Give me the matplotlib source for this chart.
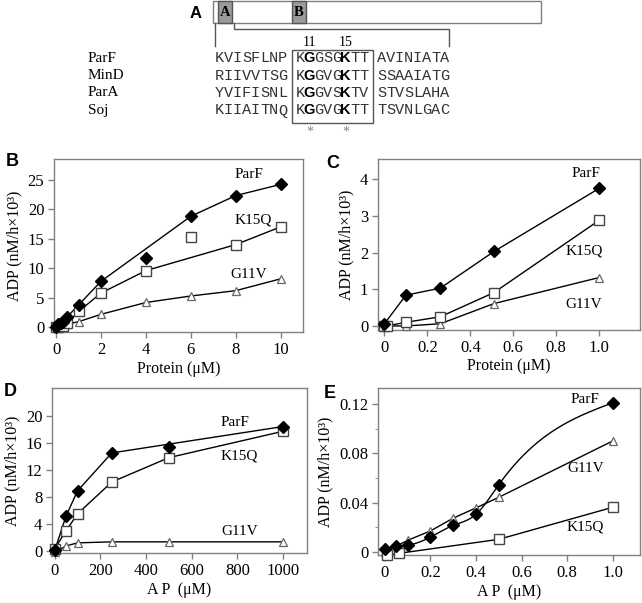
import numpy as np
import matplotlib
matplotlib.use("Agg")
import matplotlib.pyplot as plt
import matplotlib.patches as patches

plt.rcParams['font.family'] = ['Liberation Serif', 'DejaVu Serif']

# ---- panel A: sequence alignment ----
seq_names = ["ParF", "MinD", "ParA", "Soj"]
seq_left = ["KVISFLNP", "RIIVVTSG", "YVIFISNL", "KIIAITNQ"]
seq_mid = ["KGGSGKTT", "KGGVGKTT", "KGGVSKTV", "KGGVGKTT"]
seq_right = ["AVINIATA", "SSAAIATG", "STVSLAHA", "TSVNLGAC"]
bold_pos = [1, 5]           # G11 and K15 inside the boxed motif
motif_labels = ["11", "15"]

# ---- panel B: ATPase vs protein (0-10 uM) ----
b_x_parf = [0, 0.1, 0.2, 0.3, 0.5, 1, 2, 4, 6, 8, 10]
b_y_parf = [0, 0.5, 0.7, 0.9, 1.8, 3.8, 7.8, 11.8, 18.8, 22.3, 24.2]
b_x_k15q = [0, 0.1, 0.3, 0.5, 1, 2, 4, 6, 8, 10]
b_y_k15q = [0, 0.1, 0.2, 0.7, 2.7, 5.8, 9.6, 15.3, 14.0, 17.0]
b_x_g11v = [0, 0.1, 0.3, 0.5, 1, 2, 4, 6, 8, 10]
b_y_g11v = [0, 0.05, 0.1, 0.55, 0.95, 2.2, 4.2, 5.3, 6.2, 8.2]
# fitted lines skip the outlying points
b_fit_parf = [0, 1, 2, 3, 4, 5, 6, 8, 9, 10]
b_fit_k15q = [0, 1, 2, 3, 4, 5, 6, 8, 9]

# ---- panel C: ATPase vs protein (0-1 uM) ----
c_x = [0, 0.1, 0.26, 0.51, 1.0]
c_y_parf = [0.06, 0.84, 1.03, 2.03, 3.75]
c_x_k15q = [0, 0.01, 0.1, 0.26, 0.51, 1.0]
c_y_k15q = [0, 0, 0.1, 0.25, 0.91, 2.88]
c_x_g11v = [0, 0.01, 0.1, 0.26, 0.51, 1.0]
c_y_g11v = [0, 0, 0, 0.06, 0.61, 1.32]

# ---- panel D: ATPase vs ATP (0-1000 uM) ----
d_x = [0, 50, 100, 250, 500, 1000]
d_y_parf = [0.1, 5.2, 8.9, 14.5, 15.4, 18.4]
d_y_k15q = [0.35, 3.0, 5.5, 10.2, 13.8, 17.7]
d_y_g11v = [-0.2, 0.75, 1.2, 1.35, 1.35, 1.35]
d_fit_parf = [0, 1, 2, 3, 5]

# ---- panel E: ATPase vs ATP (0-1 uM) ----
e_x_parf = [0, 0.05, 0.1, 0.2, 0.3, 0.4, 0.5, 1.0]
e_y_parf = [0.002, 0.0046, 0.0055, 0.012, 0.0215, 0.0305, 0.0545, 0.121]
e_x_g11v = [0, 0.1, 0.2, 0.3, 0.4, 0.5, 1.0]
e_y_g11v = [0, 0.0094, 0.017, 0.0274, 0.0357, 0.0443, 0.090]
e_x_k15q = [0.01, 0.06, 0.5, 1.0]
e_y_k15q = [-0.0025, -0.0012, 0.0102, 0.0362]

W, H = 642, 603
fig = plt.figure(figsize=(W / 100, H / 100), dpi=100)

ax0 = fig.add_axes([0, 0, 1, 1])
ax0.set_xlim(0, W)
ax0.set_ylim(H, 0)
ax0.axis("off")

GRAY = "#808080"
DARK = "#555555"

# domain bar with Walker A / B boxes
ax0.add_patch(patches.Rectangle((213, 1), 328, 22, fill=False, edgecolor=GRAY, lw=1))
for x0, lab in [(218, "A"), (292, "B")]:
    ax0.add_patch(patches.Rectangle((x0, 1), 14, 22, facecolor="#9a9a9a", edgecolor=DARK, lw=1))
    ax0.text(x0 + 7, 13, lab, ha="center", va="center", fontsize=10.5, fontweight="bold")
ax0.text(196, 13, "A", ha="center", va="center", fontsize=12, fontweight="bold",
         family=["Liberation Sans", "DejaVu Sans"])
ax0.plot([215, 215], [23, 46], color=DARK, lw=1)
ax0.plot([234, 234, 449, 449], [23, 29, 29, 46], color=DARK, lw=1)

pitch = 9
row_y = [58, 75.5, 93, 110.5]
for i, name in enumerate(seq_names):
    y = row_y[i]
    ax0.text(88, y, name, ha="left", va="center", fontsize=11)
    for segx, seg in [(215, seq_left[i]), (296, seq_mid[i]), (377, seq_right[i])]:
        for j, ch in enumerate(seg):
            if segx == 296 and j in bold_pos:
                ax0.text(segx + (j + 0.5) * pitch, y, ch, ha="center", va="center",
                         fontsize=10.5, fontweight="bold", family=["Liberation Sans", "DejaVu Sans"])
            else:
                ax0.text(segx + (j + 0.5) * pitch, y, ch, ha="center", va="center",
                         fontsize=11, family=["Liberation Mono", "DejaVu Sans Mono"], color="#333333")
ax0.add_patch(patches.Rectangle((292, 50), 81, 73, fill=False, edgecolor=DARK, lw=1))
for j, lab in zip(bold_pos, motif_labels):
    xc = 296 + (j + 0.5) * pitch
    ax0.text(xc, 43, lab, ha="center", va="center", fontsize=10)
    ax0.text(xc, 132, "*", ha="center", va="center", fontsize=10, color=GRAY)


def make_ax(l, r, t, b):
    ax = fig.add_axes([l / W, 1 - b / H, (r - l) / W, (b - t) / H])
    for s in ax.spines.values():
        s.set_color(GRAY)
        s.set_linewidth(1)
    ax.tick_params(direction="out", length=4, width=1, color=GRAY, labelsize=12, pad=3)
    ax.set_ylabel("ADP (nM/h×10³)", fontsize=11.5, labelpad=4)
    return ax


def series(ax, x, y, kind, line_idx=None, line=True):
    x = np.asarray(x)
    y = np.asarray(y)
    if line:
        idx = np.arange(len(x)) if line_idx is None else np.asarray(line_idx)
        ax.plot(x[idx], y[idx], color="black", lw=1, zorder=2)
    if kind == "parf":
        ax.plot(x, y, ls="none", marker="D", ms=6, mfc="black", mec="black", zorder=4, clip_on=False)
    elif kind == "k15q":
        ax.plot(x, y, ls="none", marker="s", ms=7, mfc="white", mec="#444444", mew=1, zorder=3, clip_on=False)
    else:
        ax.plot(x, y, ls="none", marker="^", ms=6, mfc="white", mec="#666666", mew=0.9, zorder=3, clip_on=False)


def spline(x, y, n=200):
    # natural cubic spline through the points, for the smooth curve in E
    x = np.asarray(x, float)
    y = np.asarray(y, float)
    m = len(x)
    h = np.diff(x)
    A = np.zeros((m, m))
    rhs = np.zeros(m)
    A[0, 0] = A[-1, -1] = 1
    for i in range(1, m - 1):
        A[i, i - 1] = h[i - 1]
        A[i, i] = 2 * (h[i - 1] + h[i])
        A[i, i + 1] = h[i]
        rhs[i] = 3 * ((y[i + 1] - y[i]) / h[i] - (y[i] - y[i - 1]) / h[i - 1])
    c = np.linalg.solve(A, rhs)
    xs = np.linspace(x[0], x[-1], n)
    k = np.clip(np.searchsorted(x, xs) - 1, 0, m - 2)
    dx = xs - x[k]
    b = (y[k + 1] - y[k]) / h[k] - h[k] * (2 * c[k] + c[k + 1]) / 3
    d = (c[k + 1] - c[k]) / (3 * h[k])
    return xs, y[k] + b * dx + c[k] * dx ** 2 + d * dx ** 3


# panel B
axB = make_ax(54, 303, 159, 332)
series(axB, b_x_g11v, b_y_g11v, "g11v")
series(axB, b_x_k15q, b_y_k15q, "k15q", b_fit_k15q)
series(axB, b_x_parf, b_y_parf, "parf", b_fit_parf)
axB.set_xlim(-0.1, 11)
axB.set_ylim(-0.8, 28.5)
axB.set_xticks([0, 2, 4, 6, 8, 10])
axB.set_yticks([0, 5, 10, 15, 20, 25])
axB.set_xlabel("Protein (μM)", fontsize=11.5, labelpad=2)
axB.text(8.6, 25.3, "ParF", fontsize=11, ha="center")
axB.text(8.8, 17.6, "K15Q", fontsize=11, ha="center")
axB.text(8.6, 8.4, "G11V", fontsize=11, ha="center")

# panel C
axC = make_ax(378, 640, 159, 330)
series(axC, c_x_g11v, c_y_g11v, "g11v")
series(axC, c_x_k15q, c_y_k15q, "k15q")
series(axC, c_x, c_y_parf, "parf")
axC.set_xlim(-0.03, 1.19)
axC.set_ylim(-0.11, 4.55)
axC.set_xticks([0, 0.2, 0.4, 0.6, 0.8, 1.0])
axC.set_xticklabels(["0", "0.2", "0.4", "0.6", "0.8", "1.0"])
axC.set_yticks([0, 1, 2, 3, 4])
axC.set_xlabel("Protein (μM)", fontsize=11.5, labelpad=2)
axC.text(0.94, 4.05, "ParF", fontsize=11, ha="center")
axC.text(0.93, 1.95, "K15Q", fontsize=11, ha="center")
axC.text(0.93, 0.5, "G11V", fontsize=11, ha="center")

# panel D
axD = make_ax(52, 307, 388, 553)
series(axD, d_x, d_y_g11v, "g11v")
series(axD, d_x, d_y_k15q, "k15q")
series(axD, d_x, d_y_parf, "parf", d_fit_parf)
axD.set_xlim(-12, 1105)
axD.set_ylim(-0.3, 24.1)
axD.set_xticks([0, 200, 400, 600, 800, 1000])
axD.set_yticks([0, 4, 8, 12, 16, 20])
axD.set_xlabel("A P  (μM)", fontsize=11.5, labelpad=2)
axD.text(790, 18.5, "ParF", fontsize=11, ha="center")
axD.text(810, 13.5, "K15Q", fontsize=11, ha="center")
axD.text(810, 2.4, "G11V", fontsize=11, ha="center")

# panel E
axE = make_ax(378, 640, 388, 555)
xs, ys = spline(e_x_parf, e_y_parf)
axE.plot(xs, ys, color="black", lw=1, zorder=2)
series(axE, e_x_parf, e_y_parf, "parf", line=False)
series(axE, e_x_g11v, e_y_g11v, "g11v")
series(axE, e_x_k15q, e_y_k15q, "k15q")
axE.set_xlim(-0.03, 1.12)
axE.set_ylim(-0.0025, 0.133)
axE.set_xticks([0, 0.2, 0.4, 0.6, 0.8, 1.0])
axE.set_xticklabels(["0", "0.2", "0.4", "0.6", "0.8", "1.0"])
axE.set_yticks([0, 0.04, 0.08, 0.12])
axE.set_yticklabels(["0", "0.04", "0.08", "0.12"])
axE.set_yticks([0.02, 0.06, 0.10], minor=True)
axE.tick_params(which="minor", length=2.5, color=GRAY)
axE.set_xlabel("A P  (μM)", fontsize=11.5, labelpad=2)
axE.text(0.88, 0.121, "ParF", fontsize=11, ha="center")
axE.text(0.88, 0.065, "G11V", fontsize=11, ha="center")
axE.text(0.88, 0.017, "K15Q", fontsize=11, ha="center")

# panel letters
for x, y, lab in [(12, 162, "B"), (333, 163, "C"), (10, 392, "D"), (330, 394, "E")]:
    ax0.text(x, y, lab, ha="center", va="center", fontsize=13, fontweight="bold",
             family=["Liberation Sans", "DejaVu Sans"])

fig.savefig("out.png", dpi=100)
